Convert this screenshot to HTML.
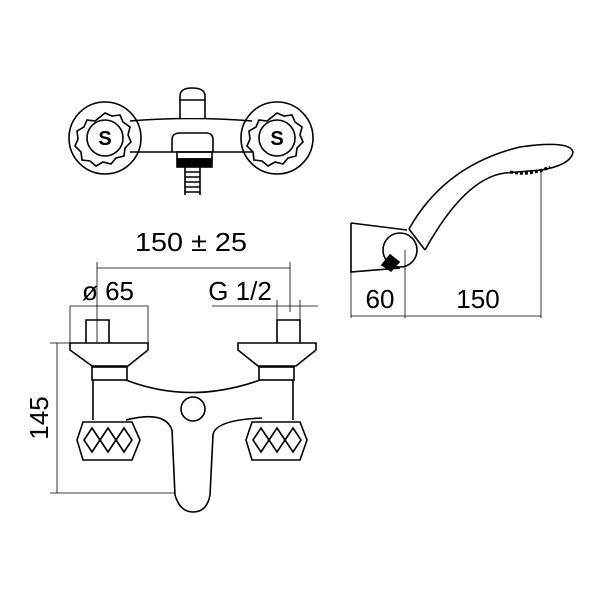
<!DOCTYPE html>
<html><head><style>body{margin:0;background:#fff}svg{display:block}</style></head><body>
<svg width="600" height="600" viewBox="0 0 600 600" xmlns="http://www.w3.org/2000/svg" fill="none" stroke="#000" stroke-width="1.6" font-family="Liberation Sans, sans-serif">
<!-- top view -->
<circle cx="105" cy="138" r="36"/><circle cx="277" cy="138" r="36"/>
<path d="M130 121 Q190 116 252 121 M130 152 L252 152"/>
<path d="M105 113 l7 3 8 -1 3 7 7 5 -2 8 3 7 -6 6 -1 8 -8 2 -5 6 -8 -2 -7 4 -6 -5 -8 -1 -1 -8 -6 -6 3 -7 -1 -8 7 -4 3 -7 8 1z" fill="#fff"/>
<circle cx="105" cy="138" r="18"/>
<path d="M277 113 l7 3 8 -1 3 7 7 5 -2 8 3 7 -6 6 -1 8 -8 2 -5 6 -8 -2 -7 4 -6 -5 -8 -1 -1 -8 -6 -6 3 -7 -1 -8 7 -4 3 -7 8 1z" fill="#fff"/>
<circle cx="277" cy="138" r="18"/>
<text x="105" y="145" font-size="20" font-weight="bold" text-anchor="middle" stroke="none" fill="#000">S</text>
<text x="277" y="145" font-size="20" font-weight="bold" text-anchor="middle" stroke="none" fill="#000">S</text>
<path d="M180 118 V96 Q180 88 192 88 Q205 88 205 96 V118 M180 100 H205" fill="#fff"/>
<path d="M172 152 V140 Q172 133 180 133 H206 Q213 133 213 140 V152"/>
<rect x="177" y="152" width="35" height="7"/><rect x="177" y="159" width="35" height="8" fill="#000"/>
<path d="M185 167 V195 M200 167 V195 M185 172 H200 M185 177 H200 M185 182 H200 M185 187 H200 M185 192 H200"/>
<!-- front view dims -->
<g stroke-width="0.8">
<path d="M97 268 H290 M97 262 V343 M290 262 V312"/>
<path d="M70 306 H148 M70 306 V343 M148 306 V343"/>
<path d="M212 306 H318 M277 300 V343 M300 300 V343"/>
<path d="M57 343 V493 M50 343 H70 M50 493 H175"/>
</g>
<g stroke="none" fill="#000" font-size="26">
<text x="191" y="251" text-anchor="middle" textLength="112" lengthAdjust="spacingAndGlyphs">150 ± 25</text>
<text x="108" y="300" text-anchor="middle">ø 65</text>
<text x="240" y="300" text-anchor="middle">G 1/2</text>
<text transform="translate(48,418) rotate(-90)" text-anchor="middle">145</text>
<text x="380" y="308" text-anchor="middle">60</text>
<text x="478" y="308" text-anchor="middle">150</text>
</g>
<!-- front view body -->
<path d="M86 343 V320 H109 V343 M277 343 V320 H300 V343"/>
<path d="M70 343 H148 V350 L128 366 H92 L70 350Z M238 343 H316 V350 L296 366 H258 L238 350Z"/>
<rect x="92" y="367" width="35" height="13"/><rect x="259" y="367" width="35" height="13"/>
<path d="M93 380 V420 M293 380 V420 M126 380 Q190 405 260 380"/>
<circle cx="193" cy="409" r="12"/>
<path d="M126 420 Q165 410 172 430 L175 495 Q180 512 193 512 Q207 512 210 495 L213 435 Q215 420 262 418"/>
<path d="M83 422 H132 L140 440 L132 460 H83 L77 440Z M252 422 H300 L307 440 L300 460 H252 L246 440Z"/>
<path d="M84 440 l8 -12 8 12 -8 12z M100 440 l8 -12 8 12 -8 12z M116 440 l8 -12 8 12 -8 12z M253 440 l8 -12 8 12 -8 12z M269 440 l8 -12 8 12 -8 12z M285 440 l8 -12 8 12 -8 12z"/>
<!-- hand shower -->
<path d="M351 223 L407 230 M351 223 V272 L400 268"/>
<circle cx="400" cy="250" r="17" fill="#fff"/>
<path d="M409 229 Q445 165 520 147 Q570 140 573 152 Q571 165 541 170 L505 173 Q465 178 425 250"/>
<path d="M409 229 L425 250"/>
<path d="M382 265 L390 255 L399 262 L391 271Z" fill="#000"/>
<path d="M510 172 Q530 176 550 167" stroke-width="3" stroke-dasharray="3 2"/>
<g stroke-width="0.8"><path d="M351 272 V318 M405 250 V318 M541 170 V318 M351 316 H541"/></g>
</svg>
</body></html>
